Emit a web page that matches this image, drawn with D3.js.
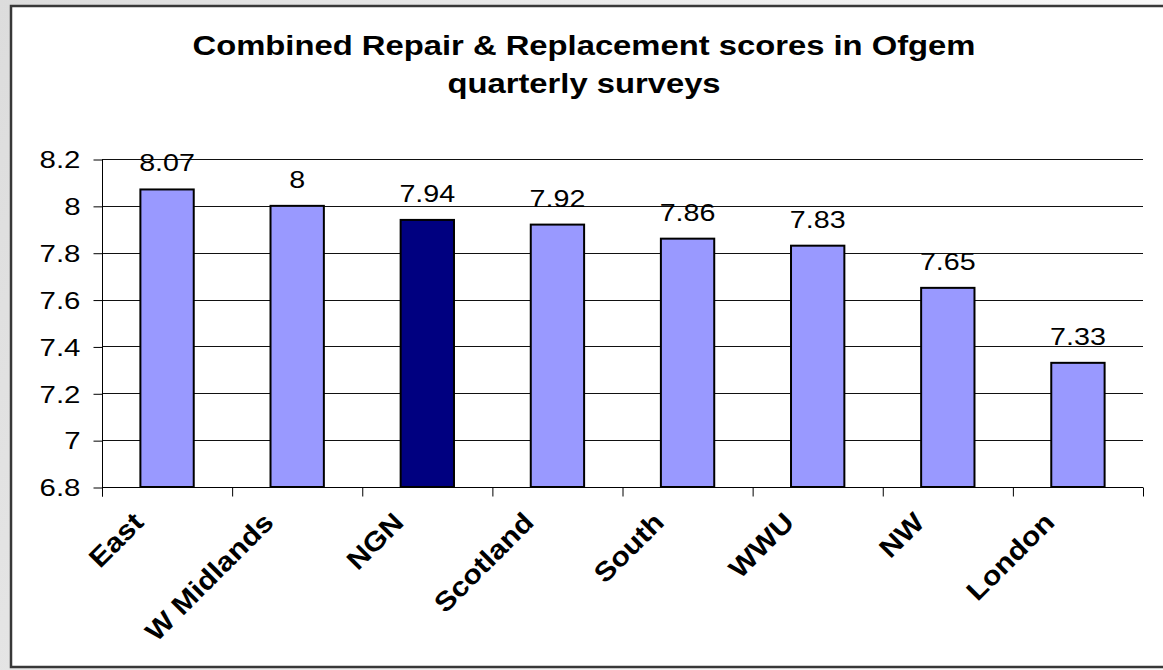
<!DOCTYPE html>
<html>
<head>
<meta charset="utf-8">
<script src="https://cdn.jsdelivr.net/npm/d3@7"></script>
<style>
  body { margin: 0; background: #fff; }
  svg text { font-family: "Liberation Sans", Arial, sans-serif; }
</style>
</head>
<body>
<div class="canvas"></div>
<script>
// chart data
const regions = ['East', 'W Midlands', 'NGN', 'Scotland', 'South', 'WWU', 'NW', 'London'];
const scores = [8.07, 8, 7.94, 7.92, 7.86, 7.83, 7.65, 7.33];
const highlight = ['NGN'];
const yTicks = [6.8, 7, 7.2, 7.4, 7.6, 7.8, 8, 8.2];
const titleLines = ['Combined Repair & Replacement scores in Ofgem', 'quarterly surveys'];

const dims = { width: 1163, height: 670 };
const plot = { left: 102, right: 1143, top: 159, bottom: 487 };

const svg = d3.select('.canvas')
    .append('svg')
    .attr('width', dims.width)
    .attr('height', dims.height);

// grey backdrop behind the chart box
const grad = svg.append('defs').append('linearGradient')
    .attr('id', 'bg')
    .attr('x1', 0).attr('y1', 0).attr('x2', 1).attr('y2', 0.3);
grad.append('stop').attr('offset', 0).attr('stop-color', '#dcdcdc');
grad.append('stop').attr('offset', 1).attr('stop-color', '#fbfbfb');

svg.append('rect')
    .attr('width', dims.width)
    .attr('height', dims.height)
    .attr('fill', 'url(#bg)');

// chart box
svg.append('rect')
    .attr('x', 11).attr('y', 6)
    .attr('width', 1170).attr('height', 661)
    .attr('fill', '#fff')
    .attr('stroke', '#383838')
    .attr('stroke-width', 2.5);

// title
svg.append('g')
    .selectAll('text')
    .data(titleLines)
    .enter()
    .append('text')
    .attr('transform', (d, i) => `translate(584, ${55 + i * 38}) scale(1.15, 1)`)
    .attr('text-anchor', 'middle')
    .attr('font-size', 28.5)
    .attr('font-weight', 'bold')
    .attr('fill', '#000')
    .text(d => d);

// scales
const x = d3.scaleBand()
    .domain(regions)
    .range([plot.left, plot.right])
    .paddingInner(0.59)
    .paddingOuter(0.295);

const xBoundary = d3.scaleLinear()
    .domain([0, regions.length])
    .range([plot.left, plot.right]);

const y = d3.scaleLinear()
    .domain([6.8, 8.2])
    .range([plot.bottom, plot.top]);

// gridlines
svg.append('g')
    .selectAll('line')
    .data(yTicks)
    .enter()
    .append('line')
    .attr('x1', plot.left)
    .attr('x2', plot.right)
    .attr('y1', d => Math.round(y(d)) + 0.5)
    .attr('y2', d => Math.round(y(d)) + 0.5)
    .attr('stroke', '#111')
    .attr('stroke-width', 1);

// y axis
const yAxis = svg.append('g')
    .attr('transform', `translate(${plot.left + 0.5}, 0.5)`)
    .call(d3.axisLeft(y)
        .tickValues(yTicks)
        .tickSize(9)
        .tickFormat(d => d3.format('')(+d.toFixed(1))));
yAxis.select('.domain').attr('stroke', '#000').attr('d', `M0,${plot.top}V${plot.bottom + 9}`);
yAxis.selectAll('.tick line').attr('stroke', '#000');
yAxis.selectAll('.tick text')
    .attr('x', 0)
    .attr('transform', 'translate(-22, 0) scale(1.28, 1)')
    .attr('dy', '0.36em')
    .attr('font-size', 23)
    .attr('font-family', '"Liberation Sans", Arial, sans-serif')
    .attr('fill', '#000');

// x axis with ticks on category boundaries
const xAxis = svg.append('g')
    .attr('transform', `translate(0, ${plot.bottom + 0.5})`)
    .call(d3.axisBottom(xBoundary)
        .tickValues(d3.range(regions.length + 1))
        .tickSize(9)
        .tickFormat(''));
xAxis.select('.domain').attr('stroke', '#000').attr('d', `M${plot.left},0H${plot.right}`);
xAxis.selectAll('.tick line').attr('stroke', '#000');

// bars
svg.append('g')
    .selectAll('rect')
    .data(scores)
    .enter()
    .append('rect')
    .attr('x', (d, i) => x(regions[i]))
    .attr('y', d => y(d))
    .attr('width', x.bandwidth())
    .attr('height', d => plot.bottom - y(d))
    .attr('fill', (d, i) => highlight.includes(regions[i]) ? '#000080' : '#9999ff')
    .attr('stroke', '#000')
    .attr('stroke-width', 2);

// value labels
svg.append('g')
    .selectAll('text')
    .data(scores)
    .enter()
    .append('text')
    .attr('transform', (d, i) => `translate(${x(regions[i]) + x.bandwidth() / 2}, ${y(d) - 18}) scale(1.22, 1)`)
    .attr('text-anchor', 'middle')
    .attr('font-size', 23.5)
    .attr('fill', '#000')
    .text(d => d);

// rotated category labels
svg.append('g')
    .selectAll('text')
    .data(regions)
    .enter()
    .append('text')
    .attr('transform', d => `translate(${x(d) + x.bandwidth() / 2 - 22}, ${plot.bottom + 37}) rotate(-45) scale(1.12, 1)`)
    .attr('text-anchor', 'end')
    .attr('font-size', 27)
    .attr('font-weight', 'bold')
    .attr('fill', '#000')
    .text(d => d);
</script>
</body>
</html>
